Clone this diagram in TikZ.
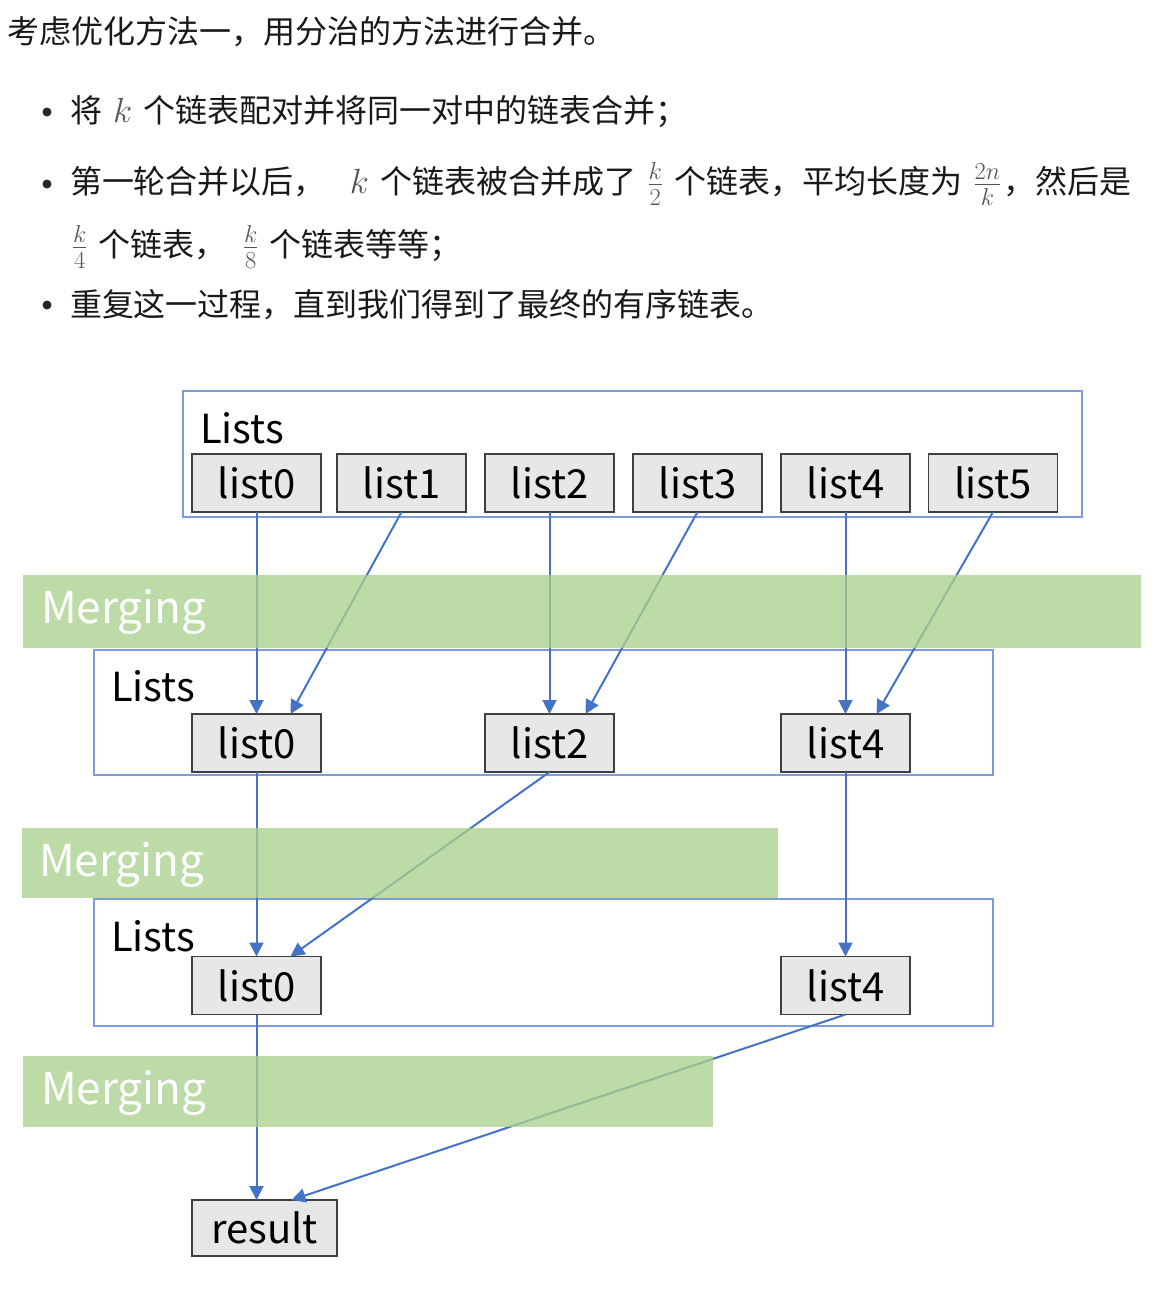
\RequirePackage{fix-cm}
\documentclass[tikz,border=0pt]{standalone}
\usepackage{fontspec}
\setmainfont{Noto Sans CJK SC}
\usetikzlibrary{arrows.meta}
\definecolor{linkblue}{HTML}{4472C4}
\definecolor{boxblue}{HTML}{7E9CD6}
\definecolor{mergegreen}{HTML}{A9D18E}
\definecolor{cellgray}{HTML}{E7E7E7}
\definecolor{mathgray}{HTML}{555555}
\newcommand\mathtxt[1]{\hspace{0.35em}{\fontsize{35}{40}\selectfont\textcolor{mathgray}{$#1$}}\hspace{0.35em}}

\begin{document}
\begin{tikzpicture}[x=1pt,y=-1pt,
 every node/.style = {inner sep=0pt, outer sep=0pt},
 para/.style = {anchor=west, font=\fontsize{32}{38}\selectfont, text=black!90},
 dot/.style = {circle, fill=black!85, minimum size=9pt},
 cell/.style = {draw=black!75, fill=cellgray, line width=1.6pt, minimum width=129pt,
   minimum height=58pt, font=\fontsize{40}{48}\selectfont},
 tag/.style = {anchor=west, font=\fontsize{40}{48}\selectfont},
 band/.style = {fill=mergegreen, fill opacity=0.78},
 bandtext/.style = {anchor=west, text=white, font=\fontsize{44}{52}\selectfont},
 flow/.style = {draw=linkblue, line width=2pt, -{Triangle[length=14pt,width=14pt]}}]
 \useasboundingbox (0,0) rectangle (1160,1294);

 \node [para] (intro) at (8,32) {考虑优化方法一，用分治的方法进行合并。};
 \node [dot] (dot1) at (47,112) {};
 \node [para] (line1) at (70,112) {将\mathtxt{k}个链表配对并将同一对中的链表合并；};
 \node [dot] (dot2) at (47,184) {};
 \node [para] (line2) at (70,184) {第一轮合并以后，\hspace{0.4em}\mathtxt{k}个链表被合并成了\mathtxt{\frac{k}{2}}个链表，平均长度为\mathtxt{\frac{2n}{k}}\hspace{-0.3em}，然后是};
 \node [para] (line2b) at (72,247) {\hspace{-0.35em}\mathtxt{\frac{k}{4}}个链表，\hspace{0.15em}\mathtxt{\frac{k}{8}}个链表等等；};
 \node [dot] (dot3) at (47,305) {};
 \node [para] (line3) at (70,305) {重复这一过程，直到我们得到了最终的有序链表。};

 \draw [boxblue, line width=1.6pt] (183,391) rectangle (1082,517);
 \draw [boxblue, line width=1.6pt] (94,650) rectangle (993,775);
 \draw [boxblue, line width=1.6pt] (94,899) rectangle (993,1026);
 \node [tag] (listsA) at (200,428) {Lists};
 \node [tag] (listsB) at (111,686) {Lists};
 \node [tag] (listsC) at (111,936) {Lists};

 \node [cell] (a0) at (256.5,483) {list0};
 \node [cell] (a1) at (401.5,483) {list1};
 \node [cell] (a2) at (549.5,483) {list2};
 \node [cell] (a3) at (697.5,483) {list3};
 \node [cell] (a4) at (845.5,483) {list4};
 \node [cell] (a5) at (993,483) {list5};

 \node [cell] (b0) at (256.5,743) {list0};
 \node [cell] (b2) at (549.5,743) {list2};
 \node [cell] (b4) at (845.5,743) {list4};

 \node [cell] (c0) at (256.5,985.5) {list0};
 \node [cell] (c4) at (845.5,985.5) {list4};

 \node [cell, minimum width=145pt, minimum height=56pt] (res) at (264.5,1228) {result};

 \draw [flow] (a0.south) -- (b0.north);
 \draw [flow] (a1.south) -- ([xshift=34pt]b0.north);
 \draw [flow] (a2.south) -- (b2.north);
 \draw [flow] (a3.south) -- ([xshift=36pt]b2.north);
 \draw [flow] (a4.south) -- (b4.north);
 \draw [flow] (a5.south) -- ([xshift=31pt]b4.north);
 \draw [flow] (b0.south) -- (c0.north);
 \draw [flow] (b2.south) -- ([xshift=34pt]c0.north);
 \draw [flow] (b4.south) -- (c4.north);
 \draw [flow] (c0.south) -- (c0.south |- res.north);
 \draw [flow] (c4.south) -- ([xshift=27pt]res.north);

 \fill [band] (23,575) rectangle (1141,648);
 \fill [band] (22,828) rectangle (778,898);
 \fill [band] (23,1056) rectangle (713,1127);
 \node [bandtext] (mergeA) at (41,612) {Merging};
 \node [bandtext] (mergeB) at (39,865) {Merging};
 \node [bandtext] (mergeC) at (41,1093) {Merging};
\end{tikzpicture}
\end{document}
